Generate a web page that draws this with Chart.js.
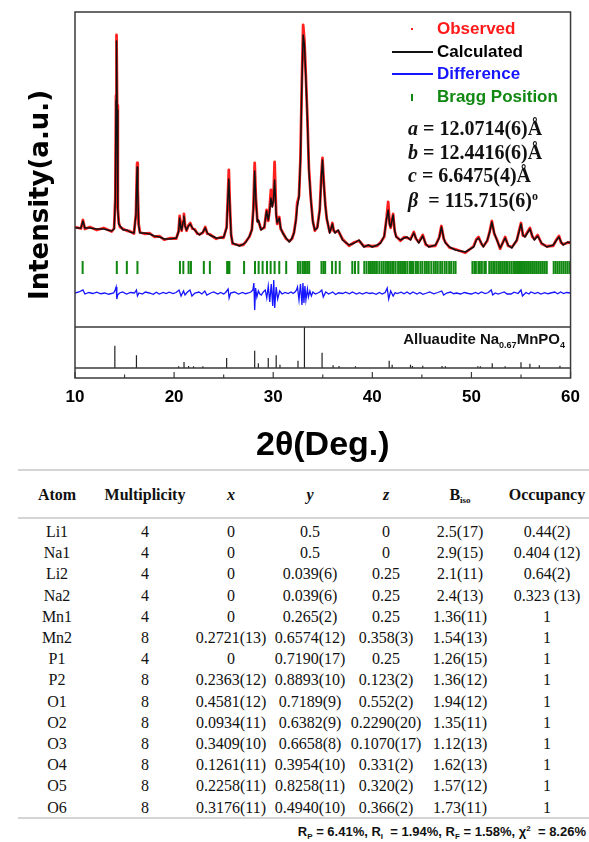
<!DOCTYPE html>
<html>
<head>
<meta charset="utf-8">
<script src="https://cdn.jsdelivr.net/npm/chart.js@4.4.1/dist/chart.umd.min.js"></script>
<style>
body{margin:0;background:#fff;width:589px;height:842px;overflow:hidden;position:relative;font-family:"Liberation Sans",Arial,sans-serif;}
#plot{position:absolute;left:0;top:0;width:589px;height:468px;}
#plot canvas{position:absolute;left:0;top:0;}
.lg{position:absolute;left:437px;font:bold 17px "Liberation Sans",Arial,sans-serif;line-height:20px;white-space:nowrap;}
.sym{position:absolute;}
.lat{position:absolute;left:408px;font:bold 20px "Liberation Serif","Times New Roman",serif;line-height:24px;white-space:nowrap;color:#111;}
.lat sup{font-size:12px;vertical-align:7px;line-height:0;}
#phase{position:absolute;right:24px;top:330px;font:bold 15px "Liberation Sans",Arial,sans-serif;line-height:18px;white-space:nowrap;color:#111;}
#phase sub{font-size:9px;vertical-align:-4px;line-height:0;}
.rule{position:absolute;left:18px;width:571px;height:2px;background:#d4d4d4;}
.cell{position:absolute;width:140px;text-align:center;font:16px "Liberation Serif","Times New Roman",serif;line-height:20px;white-space:nowrap;color:#111;}
.hd{font-weight:bold;}
.hd sub{font-size:9px;vertical-align:-3px;line-height:0;}
#rf{position:absolute;right:3px;top:823px;font:bold 13px "Liberation Sans",Arial,sans-serif;line-height:18px;white-space:nowrap;color:#111;}
#rf sub{font-size:8px;vertical-align:-3px;line-height:0;}
#rf sup{font-size:8px;vertical-align:5px;line-height:0;}
</style>
</head>
<body>
<div id="plot">
  <canvas id="xrd" width="589" height="468"></canvas>
  <div class="sym" style="left:411px;top:28px;width:2px;height:2px;background:#ff2020;"></div>
  <div class="sym" style="left:392px;top:51px;width:41px;height:1.5px;background:#111;"></div>
  <div class="sym" style="left:392px;top:73px;width:41px;height:1.5px;background:#1515ff;"></div>
  <div class="sym" style="left:411px;top:94px;width:1.5px;height:7px;background:#118811;"></div>
  <div class="lg" style="top:19px;color:#ff1a1a;">Observed</div>
  <div class="lg" style="top:42px;color:#000;">Calculated</div>
  <div class="lg" style="top:64px;color:#1515ff;">Difference</div>
  <div class="lg" style="top:87px;color:#118811;">Bragg Position</div>
  <div class="lat" style="top:116px;"><i>a</i> = 12.0714(6)Å</div>
  <div class="lat" style="top:140px;"><i>b</i> = 12.4416(6)Å</div>
  <div class="lat" style="top:163px;"><i>c</i> = 6.6475(4)Å</div>
  <div class="lat" style="top:188px;"><i>β</i> &nbsp;= 115.715(6)<sup>o</sup></div>
  <div id="phase">Alluaudite Na<sub>0.67</sub>MnPO<sub>4</sub></div>
</div>
<div class="rule" style="top:469px;"></div>
<div class="rule" style="top:517px;"></div>
<div class="rule" style="top:817px;"></div>
<div id="table"></div>
<div id="rf">R<sub>P</sub> = 6.41%, R<sub>I</sub> &nbsp;= 1.94%, R<sub>F</sub> = 1.58%, χ<sup>2</sup> &nbsp;= 8.26%</div>
<script>
// 2theta grid of the refined profile
var profX=[10.0,10.6,10.8,11.0,11.5,12.2,12.9,13.7,13.95,14.07,
 14.14,14.19,14.25,14.32,14.42,14.55,14.86,15.25,15.53,15.95,
 16.15,16.22,16.27,16.33,16.42,16.55,17.0,17.54,18.0,18.55,
 19.0,19.55,20.22,20.45,20.56,20.68,20.76,20.9,20.99,21.1,
 21.25,21.45,21.63,21.85,22.07,22.35,22.57,22.9,23.14,23.35,
 23.58,24.25,24.7,25.0,25.3,25.42,25.52,25.62,25.75,25.9,
 26.59,27.0,27.26,27.6,27.85,28.0,28.13,28.25,28.4,28.5,
 28.77,29.1,29.33,29.5,29.6,29.77,29.9,30.02,30.14,30.3,
 30.4,30.61,30.75,30.95,31.3,31.62,31.9,32.1,32.3,32.42,
 32.6,32.75,32.88,33.02,33.15,33.3,33.45,33.6,33.8,34.0,
 34.2,34.45,34.7,34.85,34.97,35.1,35.25,35.4,35.7,35.85,
 35.97,36.1,36.24,36.55,37.0,37.65,38.2,38.65,39.15,39.6,
 40.0,40.5,40.84,41.2,41.45,41.6,41.75,41.85,42.1,42.25,
 42.4,42.84,43.2,43.51,43.85,44.18,44.4,44.68,45.09,45.4,
 45.7,46.37,46.75,46.97,47.2,47.37,47.8,48.38,49.38,50.22,
 50.5,50.72,51.0,51.2,51.6,51.85,52.06,52.3,52.56,52.9,
 53.4,53.7,54.07,54.57,54.8,55.0,55.2,55.4,55.9,56.15,
 56.35,56.68,57.08,57.6,58.25,58.6,58.83,59.05,59.27,59.7,
 60.0];

// calculated intensity (a.u.)
var calcI=[2000,2000,2280,2000,2000,1960,1960,1880,1960,3120,
 7120,9480,6720,2720,2160,2080,1920,1920,1840,1800,
 2520,3720,4440,3520,2120,1800,1800,1760,1680,1640,
 1560,1560,1600,1840,2400,2000,1920,2240,2480,2080,
 1920,2080,2160,2000,1920,1800,1720,1840,2000,1800,
 1720,1600,1600,1640,2000,3120,3960,2920,1720,1400,
 1280,1360,1440,1680,1920,2720,4280,3120,2240,2320,
 1920,2040,2680,2320,2560,3200,2840,3120,3920,2520,
 2200,2400,2000,1800,1600,1440,1600,1800,2320,2840,
 3240,4720,7520,9720,9320,7920,6320,4320,3120,2240,
 1920,2000,2720,4000,4720,3800,2920,2400,1800,2000,
 2160,1920,1800,1920,1520,1320,1400,1520,1240,1320,
 1240,1320,1400,1680,2400,2720,2120,2040,2520,1920,
 1640,1520,1600,1640,1520,1800,1600,1400,1680,1360,
 1240,1320,1600,2040,1600,1400,1240,1120,1040,1240,
 1520,1600,1400,1240,1520,1840,2240,1800,1520,1200,
 1600,1320,1200,1520,1840,2160,1720,1640,1960,1680,
 1520,1680,1400,1240,1320,1520,1640,1440,1320,1440,
 1400];

// observed intensity (a.u.)
var obsI=[2040,1980,2320,1960,2040,1920,2000,1860,1990,3200,
 7300,9720,6900,2800,2200,2040,1960,1890,1870,1780,
 2560,3800,4600,3600,2160,1830,1770,1790,1650,1670,
 1530,1590,1580,1870,2480,2030,1890,2280,2560,2110,
 1890,2110,2200,1970,1950,1770,1750,1810,2040,1770,
 1750,1570,1630,1610,2040,3200,4320,3000,1750,1370,
 1310,1330,1470,1650,1950,2800,4600,3200,2280,2290,
 1950,2010,2720,2290,2600,3520,2880,3160,4640,2560,
 2170,2440,1970,1830,1570,1470,1570,1830,2360,3000,
 3280,4800,7680,10120,9500,8000,6400,4400,3160,2270,
 1890,2030,2760,4060,4800,3860,2960,2370,1830,1970,
 2200,1890,1830,1890,1550,1290,1430,1490,1270,1290,
 1270,1290,1430,1650,2440,3040,2160,2010,2560,1890,
 1670,1490,1630,1610,1550,1840,1570,1430,1720,1330,
 1270,1290,1630,2080,1570,1430,1210,1150,1010,1270,
 1550,1640,1370,1270,1490,1880,2280,1770,1550,1170,
 1640,1290,1230,1490,1880,2200,1690,1670,2000,1650,
 1550,1720,1370,1270,1290,1550,1680,1410,1350,1410,
 1430];

// difference curve (offset below the pattern)
var diffX=[10.0,10.4,10.8,11.0,11.4,11.8,12.2,12.6,13.0,13.4,
 13.9,14.05,14.15,14.22,14.3,14.5,14.8,15.2,15.6,16.0,
 16.2,16.3,16.45,16.8,17.1,17.5,17.9,18.2,18.5,18.9,
 19.2,19.5,19.9,20.2,20.5,20.7,20.95,21.1,21.35,21.6,
 21.8,22.1,22.5,22.8,23.1,23.3,23.7,24.0,24.4,24.7,
 25.0,25.2,25.45,25.55,25.7,26.1,26.5,26.9,27.2,27.5,
 27.75,27.95,28.05,28.13,28.22,28.35,28.5,28.65,28.8,29.0,
 29.2,29.35,29.5,29.65,29.8,29.95,30.05,30.15,30.3,30.45,
 30.65,30.9,31.2,31.5,31.8,32.0,32.2,32.35,32.45,32.6,
 32.75,32.9,33.0,33.1,33.2,33.3,33.45,33.55,33.7,33.85,
 34.0,34.25,34.5,34.7,34.9,35.05,35.3,35.6,36.0,36.3,
 36.6,37.0,37.3,37.7,38.0,38.4,38.7,39.0,39.4,39.7,
 40.0,40.4,40.7,41.0,41.3,41.5,41.65,41.85,42.1,42.3,
 42.5,42.9,43.2,43.5,43.8,44.1,44.5,44.8,45.1,45.5,
 45.8,46.2,46.6,47.0,47.2,47.5,47.9,48.2,48.5,48.9,
 49.3,49.7,50.0,50.4,50.7,51.0,51.4,51.7,52.0,52.15,
 52.4,52.7,53.0,53.3,53.6,54.0,54.3,54.7,55.0,55.15,
 55.5,55.8,56.0,56.4,56.7,57.0,57.4,57.7,58.0,58.4,
 58.7,59.0,59.3,59.6,60.0];
var diffI=[-600,-560,-480,-640,-580,-620,-570,-630,-600,-650,
 -600,-480,-360,-840,-680,-600,-560,-640,-580,-600,
 -480,-720,-600,-640,-560,-600,-650,-570,-640,-580,
 -620,-570,-620,-580,-480,-720,-520,-680,-560,-480,
 -720,-600,-560,-640,-520,-680,-600,-560,-640,-580,
 -640,-580,-440,-800,-600,-560,-640,-580,-630,-600,
 -560,-480,-200,-1280,-400,-760,-520,-640,-680,-560,
 -480,-800,-320,-960,-240,-1120,-80,-1200,-360,-840,
 -520,-640,-580,-620,-560,-620,-560,-480,-360,-880,
 -240,-1080,-200,-1000,-320,-880,-440,-760,-520,-720,
 -560,-640,-600,-560,-480,-760,-560,-640,-560,-660,
 -590,-620,-570,-630,-560,-640,-590,-640,-580,-620,
 -600,-650,-580,-640,-580,-400,-840,-520,-720,-580,
 -620,-570,-630,-560,-640,-560,-640,-580,-650,-600,
 -560,-630,-580,-520,-680,-600,-560,-630,-600,-640,
 -580,-620,-640,-580,-630,-560,-620,-580,-480,-680,
 -600,-640,-600,-560,-640,-640,-570,-620,-480,-720,
 -580,-640,-560,-620,-580,-640,-590,-630,-600,-560,
 -630,-560,-620,-580,-600];

// Bragg reflection positions (2theta)
var braggPos=[10.77,14.22,15.23,16.30,20.59,20.93,21.46,21.70,23.00,23.61,
 25.35,25.48,25.58,27.06,28.16,28.53,28.93,29.37,29.74,30.14,
 30.61,31.31,32.49,32.72,32.96,33.12,33.29,33.46,33.63,34.87,
 35.07,35.24,35.94,36.31,36.71,37.98,38.25,38.59,39.19,39.42,
 39.66,39.86,40.06,40.26,40.46,40.70,40.93,41.13,41.33,41.50,
 41.62,41.80,42.00,42.15,42.35,42.60,42.80,43.00,43.20,43.35,
 43.55,43.80,44.00,44.15,44.40,44.60,44.85,45.05,45.30,45.50,
 45.70,45.95,46.20,46.40,46.60,46.85,47.05,47.30,47.50,47.75,
 47.95,48.20,48.40,50.10,50.30,50.45,50.70,50.85,51.05,51.30,
 51.45,51.80,52.00,52.20,52.35,52.55,52.75,52.90,53.10,53.30,
 53.50,53.65,53.85,54.05,54.25,54.40,54.60,54.80,55.00,55.20,
 55.40,55.60,55.80,56.00,56.20,56.40,56.60,56.80,57.00,57.20,
 57.40,57.60,58.30,58.50,58.70,58.90,59.10,59.30,59.50,59.70,
 59.90];

// reference pattern: Alluaudite Na0.67MnPO4
var stickPos=[14.02,16.2,20.46,21.0,21.46,21.96,22.9,25.3,28.13,28.5,
 29.5,30.3,30.68,32.5,33.15,34.93,36.04,36.64,38.3,41.7,
 42.0,43.85,44.05,45.09,47.03,47.37,50.65,50.9,52.1,53.4,
 55.0,55.9,56.85,58.93];
var stickTop=[-2707,-3093,-3533,-3360,-3520,-3533,-3533,-3200,-2907,-3413,
 -3200,-3093,-3467,-3307,-1960,-2987,-3493,-3520,-3533,-3307,
 -3467,-3467,-3520,-3507,-3520,-3533,-3533,-3533,-3413,-3533,
 -3373,-3427,-3493,-3507];

var xTicks=[10,20,30,40,50,60];

var BRAGG_LEVEL=420;
var PANEL_SPLIT=-1960;
var STICK_BASE=-3600;

function pairs(xs,ys){
    var out=[];
    for(var i=0;i<xs.length;i++){
        out.push({x:xs[i],y:ys[i]});
    }
    return out;
}

var braggData=[];
for(var i=0;i<braggPos.length;i++){
    braggData.push({x:braggPos[i],y:BRAGG_LEVEL});
}
var stickData=[];
for(var i=0;i<stickPos.length;i++){
    stickData.push({x:stickPos[i],y:STICK_BASE});
    stickData.push({x:stickPos[i],y:stickTop[i]});
    stickData.push({x:stickPos[i],y:null});
}

//边框、分隔线和朝内的刻度
var framePlugin={
    id:"frame",
    afterDatasetsDraw:function(chart){
        var c=chart.ctx,a=chart.chartArea,xs=chart.scales.x,ys=chart.scales.y;
        c.save();
        c.strokeStyle="#3a3a3a";
        c.lineWidth=1.5;
        c.strokeRect(a.left,a.top,a.right-a.left,a.bottom-a.top);
        [PANEL_SPLIT,STICK_BASE].forEach(function(v){
            var y=ys.getPixelForValue(v);
            c.beginPath();
            c.moveTo(a.left,y);
            c.lineTo(a.right,y);
            c.stroke();
        });
        c.lineWidth=1.2;
        for(var k=0;k<xTicks.length;k++){
            var px=xs.getPixelForValue(xTicks[k]);
            c.beginPath();c.moveTo(px,a.bottom);c.lineTo(px,a.bottom-6);c.stroke();
            if(k<xTicks.length-1){
                var mx=xs.getPixelForValue((xTicks[k]+xTicks[k+1])/2);
                c.beginPath();c.moveTo(mx,a.bottom);c.lineTo(mx,a.bottom-3.5);c.stroke();
            }
        }
        c.restore();
    }
};

var xrdChart=new Chart(document.getElementById("xrd"),{
    type:"scatter",
    data:{
        datasets:[
            {label:"Calculated",data:pairs(profX,calcI),showLine:true,borderColor:"#111111",borderWidth:1.5,
                borderJoinStyle:"round",pointRadius:0,order:1},
            {label:"Observed",data:pairs(profX,obsI),showLine:true,borderColor:"#ff2020",borderWidth:2.8,
                borderJoinStyle:"round",borderCapStyle:"round",pointRadius:0,order:2},
            {label:"Difference",data:pairs(diffX,diffI),showLine:true,borderColor:"#1515ff",borderWidth:1.3,pointRadius:0,order:3},
            {label:"Bragg Position",data:braggData,showLine:false,pointStyle:"line",pointRotation:90,pointRadius:6.5,
                pointBorderColor:"#118811",pointBorderWidth:2,borderColor:"#118811",order:4},
            {label:"Reference",data:stickData,showLine:true,spanGaps:false,borderColor:"#222222",borderWidth:1.2,pointRadius:0,order:5}
        ]
    },
    options:{
        responsive:false,
        animation:false,
        layout:{padding:{top:12,right:16,left:0,bottom:0}},
        plugins:{legend:{display:false},tooltip:{enabled:false}},
        scales:{
            x:{
                type:"linear",min:10,max:60,
                grid:{display:false,drawTicks:false},
                border:{display:false},
                ticks:{stepSize:10,padding:9,color:"#000",maxRotation:0,
                    font:{family:"'Liberation Sans', Arial, sans-serif",size:17,weight:"bold"}},
                title:{display:true,text:"2θ(Deg.)",color:"#000",padding:{top:0,bottom:2},
                    font:{family:"'Liberation Sans', Arial, sans-serif",size:34,weight:"bold"}},
                afterFit:function(s){s.height=90;}
            },
            y:{
                min:-4000,max:10640,
                grid:{display:false,drawTicks:false},
                border:{display:false},
                ticks:{display:false},
                title:{display:true,text:"Intensity(a.u.)",color:"#000",padding:{top:26,bottom:0},
                    font:{family:"'DejaVu Sans', sans-serif",size:26,weight:"bold"}},
                afterFit:function(s){s.width=75;}
            }
        }
    },
    plugins:[framePlugin]
});

// 原子坐标表
var colCenter=[57,145,231,310,386,460,547];
var header=["Atom","Multiplicity","<i>x</i>","<i>y</i>","<i>z</i>","B<sub>iso</sub>","Occupancy"];
var rows=[
    ["Li1","4","0","0.5","0","2.5(17)","0.44(2)"],
    ["Na1","4","0","0.5","0","2.9(15)","0.404 (12)"],
    ["Li2","4","0","0.039(6)","0.25","2.1(11)","0.64(2)"],
    ["Na2","4","0","0.039(6)","0.25","2.4(13)","0.323 (13)"],
    ["Mn1","4","0","0.265(2)","0.25","1.36(11)","1"],
    ["Mn2","8","0.2721(13)","0.6574(12)","0.358(3)","1.54(13)","1"],
    ["P1","4","0","0.7190(17)","0.25","1.26(15)","1"],
    ["P2","8","0.2363(12)","0.8893(10)","0.123(2)","1.36(12)","1"],
    ["O1","8","0.4581(12)","0.7189(9)","0.552(2)","1.94(12)","1"],
    ["O2","8","0.0934(11)","0.6382(9)","0.2290(20)","1.35(11)","1"],
    ["O3","8","0.3409(10)","0.6658(8)","0.1070(17)","1.12(13)","1"],
    ["O4","8","0.1261(11)","0.3954(10)","0.331(2)","1.62(13)","1"],
    ["O5","8","0.2258(11)","0.8258(11)","0.320(2)","1.57(12)","1"],
    ["O6","8","0.3176(11)","0.4940(10)","0.366(2)","1.73(11)","1"]
];
var table=document.getElementById("table");
function addCell(html,col,yc,cls){
    var d=document.createElement("div");
    d.className="cell"+(cls?" "+cls:"");
    d.style.left=(colCenter[col]-70)+"px";
    d.style.top=(yc-10)+"px";
    d.innerHTML=html;
    table.appendChild(d);
}
for(var j=0;j<header.length;j++){
    addCell(header[j],j,495,"hd");
}
for(var r=0;r<rows.length;r++){
    for(var j=0;j<rows[r].length;j++){
        addCell(rows[r][j],j,532+r*21.2);
    }
}
</script>
</body>
</html>
